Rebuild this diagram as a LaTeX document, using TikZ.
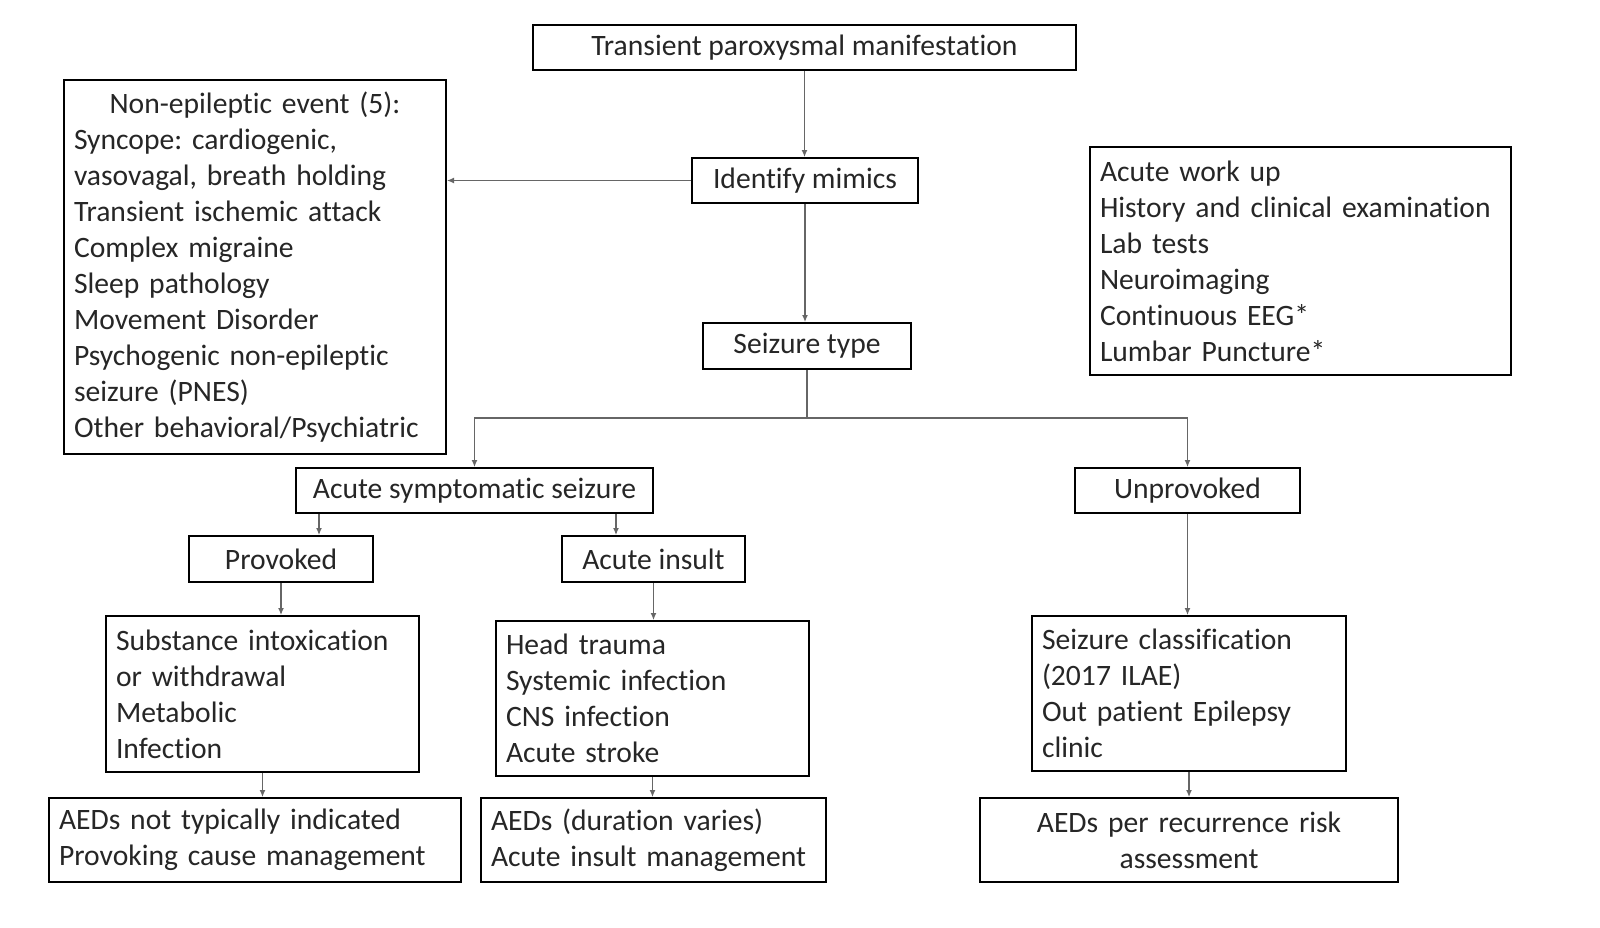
\documentclass[tikz,border=0pt]{standalone}
\usepackage{fontspec}
\setmainfont{Carlito}[Ligatures=CommonOff]
\frenchspacing
\usetikzlibrary{arrows.meta}
\begin{document}
\begin{tikzpicture}[x=0.5pt,y=-0.5pt,
  box/.style={draw=black,line width=1pt,inner xsep=5pt,inner ysep=0pt,font=\fontsize{14.8}{18}\selectfont,text=black!85},
  conn/.style={draw=black!60,line width=0.6pt,-{Latex[length=3.5pt,width=3pt]}},
  line/.style={draw=black!60,line width=0.6pt}]
\useasboundingbox (0,0) rectangle (1600,927);
\fill[white] (0,0) rectangle (1600,927);

\node[box,minimum width=271.5pt,minimum height=22.5pt] (top) at (804.5,47.5) {Transient paroxysmal manifestation};
\node[box,minimum width=113pt,minimum height=22.5pt] (mim) at (805,180.5) {Identify mimics};
\node[box,minimum width=104pt,minimum height=23pt] (st) at (807,346) {Seizure type};

\node[box,minimum width=191pt,minimum height=187pt,text width=181pt,align=left] (neb) at (255,267)
 {\makebox[181pt][c]{Non-epileptic event (5):}\\Syncope: cardiogenic,\\vasovagal, breath holding\\Transient ischemic attack\\Complex migraine\\Sleep pathology\\Movement Disorder\\Psychogenic non-epileptic\\seizure (PNES)\\Other behavioral/Psychiatric};

\node[box,minimum width=210.5pt,minimum height=114pt,text width=200.5pt,align=left] (work) at (1300.5,261)
 {Acute work up\\History and clinical examination\\Lab tests\\Neuroimaging\\Continuous EEG*\\Lumbar Puncture*};

\node[box,minimum width=178.5pt,minimum height=22.5pt] (asz) at (474.5,490.5) {Acute symptomatic seizure};
\node[box,minimum width=112.5pt,minimum height=22.5pt] (unp) at (1187.5,490.5) {Unprovoked};
\node[box,minimum width=92pt,minimum height=23pt] (prov) at (281,559) {Provoked};
\node[box,minimum width=91.5pt,minimum height=23pt] (ins) at (653.5,559) {Acute insult};

\node[box,minimum width=156.5pt,minimum height=78pt,text width=146.5pt,align=left] (sub) at (262.5,694)
 {Substance intoxication\\or withdrawal\\Metabolic\\Infection};
\node[box,minimum width=156.5pt,minimum height=77.5pt,text width=146.5pt,align=left] (head) at (652.5,698.5)
 {Head trauma\\Systemic infection\\CNS infection\\Acute stroke};
\node[box,minimum width=157pt,minimum height=77.5pt,text width=147pt,align=left] (cls) at (1189,693.5)
 {Seizure classification\\(2017 ILAE)\\Out patient Epilepsy\\clinic};

\node[box,minimum width=206pt,minimum height=42pt,text width=196pt,align=left] (aed1) at (255,840)
 {AEDs not typically indicated\\Provoking cause management};
\node[box,minimum width=172.5pt,minimum height=42pt,text width=162.5pt,align=left] (aed2) at (653.5,840)
 {AEDs (duration varies)\\Acute insult management};
\node[box,minimum width=209pt,minimum height=42pt,text width=199pt,align=center] (aed3) at (1189,840)
 {AEDs per recurrence risk\\assessment};

\draw[conn] (top.south) -- (top.south |- mim.north);
\draw[conn] (mim.west) -- (mim.west -| neb.east);
\draw[conn] (mim.south) -- (mim.south |- st.north);
\coordinate (j) at (807,418);
\draw[line] (st.south) -- (j);
\draw[conn] (j) -| (asz.north);
\draw[conn] (j) -| (unp.north);
\draw[conn] ([xshift=-77.75pt]asz.south) -- ([xshift=-77.75pt]asz.south |- prov.north);
\draw[conn] ([xshift=70.75pt]asz.south) -- ([xshift=70.75pt]asz.south |- ins.north);
\draw[conn] (prov.south) -- (prov.south |- sub.north);
\draw[conn] (ins.south) -- (ins.south |- head.north);
\draw[conn] (unp.south) -- (unp.south |- cls.north);
\draw[conn] (sub.south) -- (sub.south |- aed1.north);
\draw[conn] (head.south) -- (head.south |- aed2.north);
\draw[conn] (cls.south) -- (cls.south |- aed3.north);
\end{tikzpicture}
\end{document}
